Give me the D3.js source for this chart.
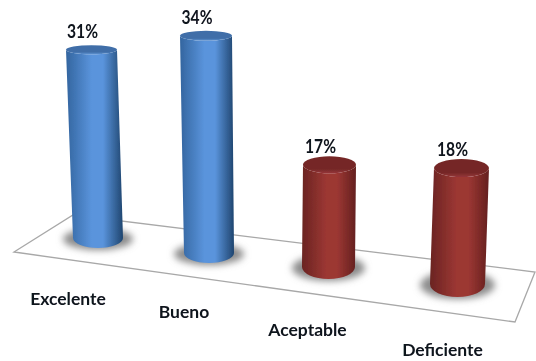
<!DOCTYPE html>
<html><head><meta charset="utf-8">
<script src="https://cdn.jsdelivr.net/npm/d3@7"></script>
<style>html,body{margin:0;padding:0;background:#fff}svg{display:block}</style>
</head><body><div id="c"></div>
<script>
const categories = ["Excelente","Bueno","Aceptable","Deficiente"];
const values = [31,34,17,18];
const groups = ["blue","blue","red","red"];
const W=536,H=361, idx=[0,1,2,3];

// perspective projection of the 3-D floor, one stop per category
const baseX = d3.scaleLinear().domain(idx).range([98,209,328.5,457.5]);
const baseY = d3.scaleLinear().domain(idx).range([238,253,267,284]);
const lean  = d3.scaleLinear().domain(idx).range([-6.5,-3,1,4]);
const rxTop = d3.scaleLinear().domain(idx).range([25.5,26,26.5,27.5]);
const rxBase= d3.scaleLinear().domain(idx).range([25,25,26.5,27.5]);
const ryTop = d3.scaleLinear().domain(idx).range([4.5,5,8.5,9]);
const ryBase= d3.scaleLinear().domain(idx).range([10,10,12,13]);
const depth = d3.scaleLinear().domain(idx).range([1,1.052,.99,1.06]);
const height= d3.scaleLinear().domain([0,34]).range([0,206.5]);
const labelX= d3.scaleLinear().domain(idx).range([68,184,307.5,442.5]);
const labelY= d3.scaleLinear().domain(idx).range([305,318,336,356]);
const topY = i => baseY(i)-height(values[i])*depth(i);

const palette = {
  blue:{l:"#33659f",m:"#5a94dc",r:"#1f456f",top:"#3f6ea8",rim:"#5f93d2",shadow:"#8c8c8c"},
  red :{l:"#6a2422",m:"#9c3733",r:"#64201f",top:"#752826",rim:"#96353a",shadow:"#8c8c8c"}
};

const svg=d3.select("#c").append("svg").attr("width",W).attr("height",H);
const defs=svg.append("defs");
Object.entries(palette).forEach(([k,c])=>{
  const g=defs.append("linearGradient").attr("id","g-"+k);
  [[0,c.l],[.45,c.m],[.65,c.m],[1,c.r]].forEach(([o,s])=>g.append("stop").attr("offset",o).attr("stop-color",s));
  const t=defs.append("linearGradient").attr("id","t-"+k).attr("x1",0).attr("x2",0).attr("y1",0).attr("y2",1);
  [[0,c.top],[.75,c.top],[1,c.rim]].forEach(([o,s])=>t.append("stop").attr("offset",o).attr("stop-color",s));
});
defs.append("filter").attr("id","blur").attr("x","-30%").attr("y","-50%").attr("width","160%").attr("height","200%")
  .append("feGaussianBlur").attr("stdDeviation",3.5);
defs.append("filter").attr("id","soft").attr("x","-10%").attr("y","-10%").attr("width","120%").attr("height","120%")
  .append("feGaussianBlur").attr("stdDeviation",.45);

// floor
const floorCorners=[[14,252],[73,215],[535,272],[515,322]];
svg.append("path").attr("d",d3.line()(floorCorners)+"Z")
  .attr("fill","#fff").attr("stroke","#a8a8a8").attr("stroke-width",1.3).attr("filter","url(#soft)");

// shadows
svg.append("g").selectAll("ellipse").data(idx).join("ellipse")
  .attr("cx",i=>baseX(i)).attr("cy",i=>baseY(i)+1)
  .attr("rx",i=>rxBase(i)+10).attr("ry",i=>ryBase(i)+1)
  .attr("fill",i=>palette[groups[i]].shadow).attr("filter","url(#blur)");

// cylinders
const bars=svg.append("g").attr("filter","url(#soft)").selectAll("g").data(idx).join("g");
bars.append("path").attr("fill",i=>`url(#g-${groups[i]})`).attr("d",i=>{
  const bx=baseX(i),by=baseY(i),tx=bx+lean(i),ty=topY(i),rb=rxBase(i),rt=rxTop(i);
  return `M${tx-rt},${ty}L${bx-rb},${by}A${rb},${ryBase(i)} 0 0 0 ${bx+rb},${by}L${tx+rt},${ty}A${rt},${ryTop(i)} 0 0 1 ${tx-rt},${ty}Z`;
});
bars.append("ellipse").attr("fill",i=>`url(#t-${groups[i]})`)
  .attr("cx",i=>baseX(i)+lean(i)).attr("cy",i=>topY(i))
  .attr("rx",i=>rxTop(i)).attr("ry",i=>ryTop(i));

const font=`"Lato","Open Sans",sans-serif`;
const text=svg.append("g").attr("font-family",font).attr("font-weight",700).attr("fill","#10131c").attr("text-anchor","middle").attr("filter","url(#soft)");
text.selectAll("text.v").data(idx).join("text").attr("class","v").attr("font-size",19)
  .attr("textLength",31).attr("lengthAdjust","spacingAndGlyphs")
  .attr("x",i=>baseX(i)+lean(i)-9).attr("y",i=>topY(i)-12).text(i=>values[i]+"%");
text.selectAll("text.c").data(idx).join("text").attr("class","c").attr("font-size",17.5)
  .attr("x",i=>labelX(i)).attr("y",i=>labelY(i)).text(i=>categories[i]);
</script></body></html>
